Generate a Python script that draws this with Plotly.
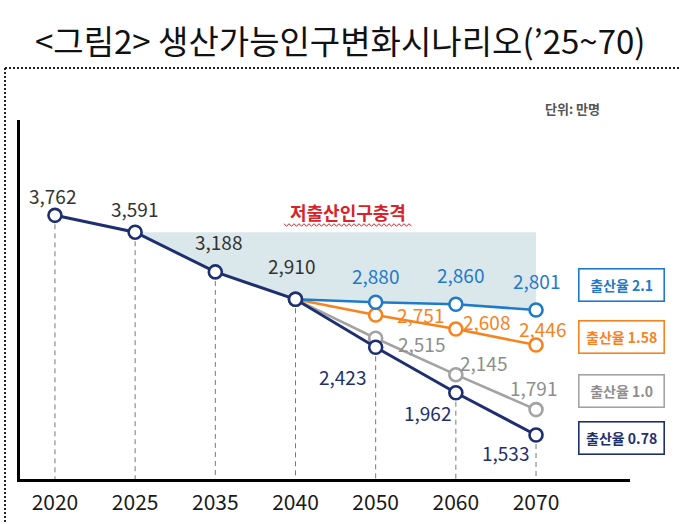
import plotly.graph_objects as go

# ---------------- data ----------------
years = ["2020", "2025", "2035", "2040", "2050", "2060", "2070"]
base_years = ["2020", "2025", "2035", "2040"]
base_values = [3762, 3591, 3188, 2910]
scen_years = ["2040", "2050", "2060", "2070"]
tfr_21 = [2910, 2880, 2860, 2801]
tfr_158 = [2910, 2751, 2608, 2446]
tfr_10 = [2910, 2515, 2145, 1791]
tfr_078 = [2910, 2423, 1962, 1533]
scenario_names = ["출산율 2.1", "출산율 1.58", "출산율 1.0", "출산율 0.78"]
title_text = "<그림2> 생산가능인구변화시나리오(’25~70)"
unit_text = "단위: 만명"
shock_text = "저출산인구충격"

# ---------------- styles ----------------
FONT = "Noto Sans CJK KR"
NAVY = "#1e2f6f"
BLUE = "#1f7bc9"
ORANGE = "#f7831f"
GRAY = "#a3a3a3"
GRAY_TXT = "#8e8e8e"
DARK = "#333333"
SHADE = "#dbe8eb"
RED = "#d8232a"

W, H = 681, 524
L, R, T, B = 20, 51, 120, 45
PW, PH = W - L - R, H - T - B
Y_RANGE = [1086.6, 4729.4]
X_RANGE = [-0.436, 7.172]


def px(x):
    return (x - L) / PW


def py(y):
    return 1 - (y - T) / PH


fig = go.Figure()

# shaded "population shock" area: between 2025 level and the upper path
shade_x = base_years[1:] + scen_years[1:]
shade_bottom = base_values[1:] + tfr_21[1:]
fig.add_trace(go.Scatter(x=shade_x, y=[base_values[1]] * len(shade_x), mode="lines",
                         line=dict(width=0, color=SHADE), hoverinfo="skip", showlegend=False))
fig.add_trace(go.Scatter(x=shade_x, y=shade_bottom, mode="lines", fill="tonexty",
                         fillcolor=SHADE, line=dict(width=0, color=SHADE),
                         hoverinfo="skip", showlegend=False))

# dashed drop lines from lowest point of each year to the axis
low = {}
for xs, ys in [(base_years, base_values), (scen_years, tfr_21), (scen_years, tfr_158),
               (scen_years, tfr_10), (scen_years, tfr_078)]:
    for x, y in zip(xs, ys):
        low[x] = min(low.get(x, y), y)
dx, dy = [], []
for x in years:
    dx += [x, x, None]
    dy += [low[x], Y_RANGE[0], None]
fig.add_trace(go.Scatter(x=dx, y=dy, mode="lines", line=dict(color="#777777", width=1, dash="5px,4px"),
                         hoverinfo="skip", showlegend=False))

marker = lambda c: dict(symbol="circle", size=13, color="white", line=dict(color=c, width=2.6))

fig.add_trace(go.Scatter(x=scen_years, y=tfr_10, mode="lines+markers", name=scenario_names[2],
                         line=dict(color=GRAY, width=2.6), marker=marker(GRAY), showlegend=False))
fig.add_trace(go.Scatter(x=scen_years, y=tfr_158, mode="lines+markers", name=scenario_names[1],
                         line=dict(color=ORANGE, width=2.6), marker=marker(ORANGE), showlegend=False))
fig.add_trace(go.Scatter(x=scen_years, y=tfr_21, mode="lines+markers", name=scenario_names[0],
                         line=dict(color=BLUE, width=2.6), marker=marker(BLUE), showlegend=False))
fig.add_trace(go.Scatter(x=base_years + scen_years[1:], y=base_values + tfr_078[1:],
                         mode="lines+markers", name=scenario_names[3],
                         line=dict(color=NAVY, width=3), marker=marker(NAVY), showlegend=False))

# ---------------- value labels ----------------
annotations = []


def vlabel(x, y, color, sx, sy):
    annotations.append(dict(x=years.index(x), y=y, xref="x", yref="y", text=f"{y:,}", showarrow=False,
                            xshift=sx, yshift=sy, font=dict(family=FONT, size=19, color=color)))


base_off = [(-2, 20), (-1, 24), (3, 30), (-4, 34)]
for x, y, (sx, sy) in zip(base_years, base_values, base_off):
    vlabel(x, y, DARK, sx, sy)
for x, y, (sx, sy) in zip(scen_years[1:], tfr_21[1:], [(0, 27), (5, 30), (0, 30)]):
    vlabel(x, y, BLUE, sx, sy)
for x, y, (sx, sy) in zip(scen_years[1:], tfr_158[1:], [(45, 0), (31, 8), (6, 17)]):
    vlabel(x, y, ORANGE, sx, sy)
for x, y, (sx, sy) in zip(scen_years[1:], tfr_10[1:], [(46, -5), (28, 12), (-3, 22)]):
    vlabel(x, y, GRAY_TXT, sx, sy)
for x, y, (sx, sy) in zip(scen_years[1:], tfr_078[1:], [(-33, -29), (-28, -20), (-31, -17)]):
    vlabel(x, y, NAVY, sx, sy)

# legend boxes
for name, c, yc in zip(scenario_names, [BLUE, ORANGE, GRAY_TXT, NAVY], [285, 337, 391, 438]):
    annotations.append(dict(x=px(621), y=py(yc), xref="paper", yref="paper", text=f"<b>{name}</b>",
                            showarrow=False, font=dict(family=FONT, size=14, color=c),
                            bordercolor=c if c != GRAY_TXT else GRAY, borderwidth=1.6, borderpad=2,
                            bgcolor="white", width=80, height=27, xanchor="center", yanchor="middle"))

# title, unit, shock caption
annotations.append(dict(x=px(340), y=py(40), xref="paper", yref="paper", text=title_text, showarrow=False,
                        font=dict(family=FONT, size=33, color="#111111"), xanchor="center", yanchor="middle"))
annotations.append(dict(x=px(572), y=py(108), xref="paper", yref="paper", text=f"<b>{unit_text}</b>",
                        showarrow=False, font=dict(family=FONT, size=13, color="#555555"),
                        xanchor="center", yanchor="middle"))
annotations.append(dict(x=px(348), y=py(212), xref="paper", yref="paper", text=f"<b>{shock_text}</b>",
                        showarrow=False, font=dict(family=FONT, size=18, color=RED),
                        xanchor="center", yanchor="middle"))

# wavy underline under the caption
wave = []
x0, x1, yw = 284, 412, 225
k = 0
xx = x0
while xx <= x1:
    yy = yw + (1.3 if k % 2 else -1.3)
    wave.append(f"{'M' if k == 0 else 'L'}{px(xx):.5f},{py(yy):.5f}")
    xx += 2.5
    k += 1
shapes = [
    dict(type="path", xref="paper", yref="paper", path=" ".join(wave), line=dict(color=RED, width=1)),
    dict(type="line", xref="paper", yref="paper", x0=px(5), x1=px(681), y0=py(68), y1=py(68),
         line=dict(color="#222222", width=2, dash="2px,2px")),
    dict(type="line", xref="paper", yref="paper", x0=px(5), x1=px(5), y0=py(68), y1=py(524),
         line=dict(color="#222222", width=2, dash="2px,2px")),
]

fig.update_layout(
    width=W, height=H, margin=dict(l=L, r=R, t=T, b=B, autoexpand=False),
    paper_bgcolor="white", plot_bgcolor="white",
    annotations=annotations, shapes=shapes, showlegend=False,
    xaxis=dict(type="category", categoryorder="array", categoryarray=years, range=X_RANGE,
               automargin=False,
               showgrid=False, zeroline=False, showline=True, linecolor="black", linewidth=3,
               ticks="", tickfont=dict(family=FONT, size=21, color="#1a1a1a"), ticklabelstandoff=3),
    yaxis=dict(range=Y_RANGE, showgrid=False, zeroline=False, showline=True, linecolor="black",
               automargin=False,
               linewidth=3, showticklabels=False, ticks=""),
)

fig.write_html("out.html", config={"displayModeBar": False},
               post_script="document.body.style.margin='0px';")
